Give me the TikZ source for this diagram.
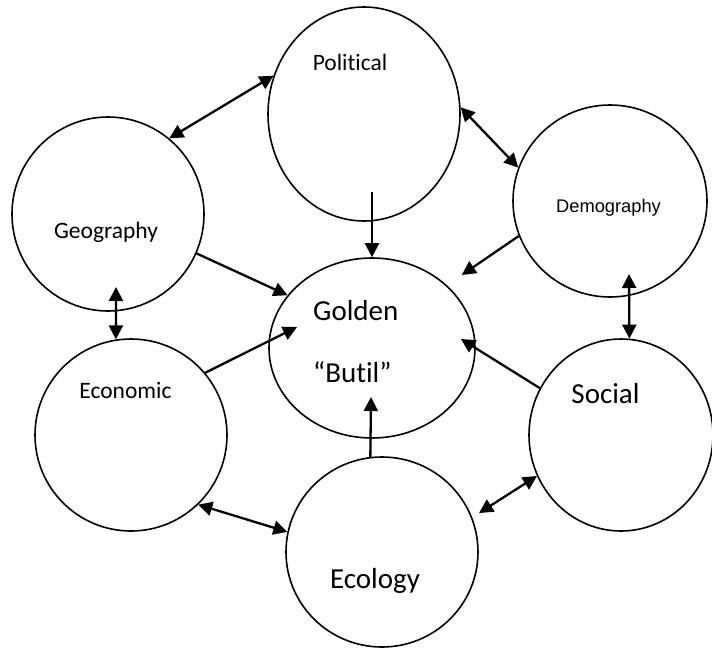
\documentclass[tikz,border=0pt]{standalone}
\usepackage{fontspec}
\setmainfont{Carlito}[Ligatures=NoCommon]
\newfontfamily\arialfont{Liberation Sans}
\usetikzlibrary{shapes.geometric,arrows.meta}
\begin{document}
\begin{tikzpicture}[x=1pt,y=1pt,
  bubble/.style={draw, ellipse, line width=1.6pt, inner sep=0pt},
  headtip/.tip={Triangle[length=14pt,width=14pt]},
  oneway/.style={line width=2.3pt, -headtip},
  twoway/.style={line width=2.3pt, headtip-headtip},
  smalltext/.style={font=\fontsize{23.5}{28}\selectfont, inner sep=0pt, anchor=base},
  bigtext/.style={font=\fontsize{29}{34}\selectfont, inner sep=0pt},
]
\useasboundingbox (0,0) rectangle (712,-648);

% circles
\node[bubble, minimum width=192pt, minimum height=214pt] (pol)  at (364,-114) {};
\node[bubble, minimum width=192pt, minimum height=194pt] (geo)  at (108,-214) {};
\node[bubble, minimum width=194pt, minimum height=192pt] (dem)  at (610,-201) {};
\node[bubble, minimum width=206pt, minimum height=180pt] (gold) at (372,-348) {};
\node[bubble, minimum width=192pt, minimum height=192pt] (eco)  at (131,-435) {};
\node[bubble, minimum width=184pt, minimum height=192pt] (soc)  at (621,-435) {};
\node[bubble, minimum width=192pt, minimum height=190pt] (ecol) at (382,-552) {};

% labels
\node[smalltext] (tpol) at (350,-70) {Political};
\node[smalltext] (tgeo) at (106,-238) {Geography};
\node[smalltext] (teco) at (125.5,-398) {Economic};
\node[font=\arialfont\fontsize{18.3}{22}\selectfont, inner sep=0pt, anchor=base] (tdem) at (608.5,-212) {Demography};
\node[bigtext, anchor=base west] (tgold) at (313,-320) {Golden};
\node[bigtext, anchor=base west] (tbutil) at (313,-382) {“Butil”};
\node[bigtext, anchor=base] (tsoc) at (605.5,-403) {Social};
\node[bigtext, anchor=base] (tecol) at (375,-588) {Ecology};

% connectors
\draw[twoway] (geo.51) -- (pol.157);
\draw[twoway] (pol.4) -- (dem.160);
\draw[oneway] ([shift={(8,-78)}]pol.center) -- (gold.north);
\draw[oneway] (geo.-24) -- (gold.148);
\draw[oneway, shorten >=18pt] (dem.201) -- (gold.40);
\draw[twoway] (eco.99) -- ([shift={(8,-73)}]geo.center);
\draw[twoway] ([shift={(19,-73)}]dem.center) -- (soc.85);
\draw[oneway] (eco.40) -- ([shift={(-75,21)}]gold.center);
\draw[oneway] (soc.150) -- ([shift={(89,9)}]gold.center);
\draw[oneway] (ecol.97) -- ([shift={(-1,-49)}]gold.center);
\draw[twoway] (eco.-46) -- (ecol.168);
\draw[twoway, shorten <=8pt] (ecol.21) -- (soc.206);
\end{tikzpicture}
\end{document}
